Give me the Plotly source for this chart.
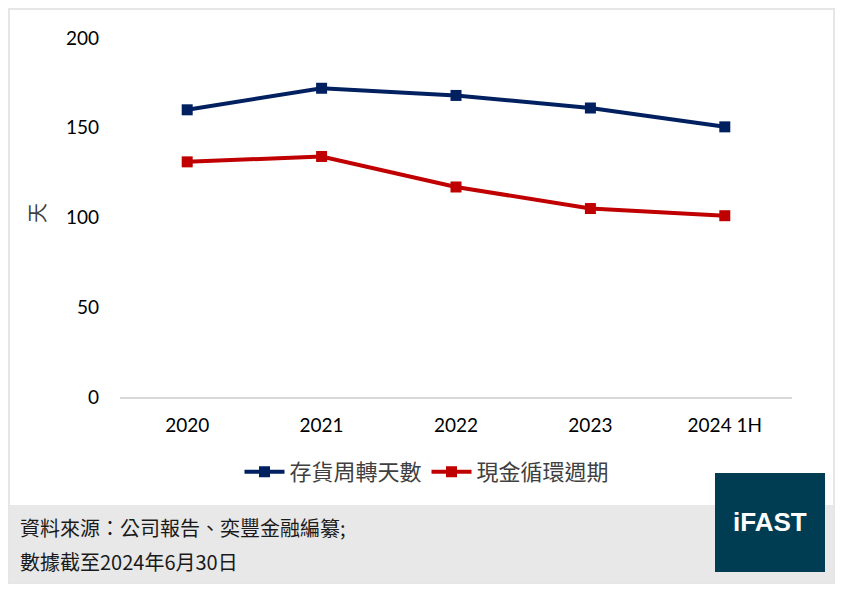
import plotly.graph_objects as go

# data
periods = ["2020", "2021", "2022", "2023", "2024 1H"]
inventory_days = [160, 172, 168, 161, 150.5]   # 存貨周轉天數
cash_cycle = [131, 134, 117, 105, 101]          # 現金循環週期

blue = "#002060"
red = "#C00000"
cjk = "Noto Sans CJK TC"
num_font = "Lato"

# page body has an 8px margin, so the figure starts at (8, 8)
OFF = 8
W, H = 844 - OFF, 589 - OFF
L, R, T, B = 112, 52, 30, 192
pw, ph = W - L - R, H - T - B


def px(x):
    # reference pixel x -> paper x
    return (x - OFF - L) / pw


def py(y):
    # reference pixel y -> paper y
    return (H - B - (y - OFF)) / ph


fig = go.Figure()
fig.add_trace(go.Scatter(
    x=periods, y=inventory_days, name="存貨周轉天數",
    mode="lines+markers", line=dict(color=blue, width=4),
    marker=dict(symbol="square", size=11, color=blue),
))
fig.add_trace(go.Scatter(
    x=periods, y=cash_cycle, name="現金循環週期",
    mode="lines+markers", line=dict(color=red, width=4),
    marker=dict(symbol="square", size=11, color=red),
))

fig.update_layout(
    width=W, height=H,
    margin=dict(l=L, r=R, t=T, b=B),
    paper_bgcolor="white", plot_bgcolor="white",
    font=dict(family=num_font, color="#000000"),
    showlegend=True,
    legend=dict(
        orientation="h", x=px(427), xanchor="center", y=py(472), yanchor="middle",
        font=dict(family=cjk, size=22, color="#404040"),
        itemwidth=40, bgcolor="rgba(0,0,0,0)",
    ),
)
fig.update_xaxes(
    type="category", range=[-0.5, 4.5], showgrid=False,
    showline=True, linecolor="#D9D9D9", linewidth=2,
    ticks="", ticklabelstandoff=10,
    tickfont=dict(family=num_font, size=19, color="#000000"),
)
fig.update_yaxes(
    range=[0, 200], dtick=50, showgrid=False, zeroline=False, showline=False,
    ticks="", ticklabelstandoff=20,
    tickfont=dict(family=num_font, size=19, color="#000000"),
)

# outer frame, footer band and logo box
fig.add_shape(type="rect", xref="paper", yref="paper",
              x0=px(8), x1=px(834), y0=py(505), y1=py(583),
              fillcolor="#E8E8E8", line=dict(width=0), layer="below")
fig.add_shape(type="rect", xref="paper", yref="paper",
              x0=px(9), x1=px(834), y0=py(583), y1=py(9),
              fillcolor="rgba(0,0,0,0)", line=dict(color="#E6E6E6", width=2))
fig.add_shape(type="rect", xref="paper", yref="paper",
              x0=px(715), x1=px(825), y0=py(572), y1=py(473),
              fillcolor="#003D52", line=dict(width=0))

# y axis title (rotated)
fig.add_annotation(text="天", xref="paper", yref="paper", x=px(36), y=py(213),
                   xanchor="center", yanchor="middle",
                   textangle=-90, showarrow=False,
                   font=dict(family=cjk, size=20, color="#404040"))

# logo text
fig.add_annotation(text="<b>iFAST</b>", xref="paper", yref="paper",
                   x=px(770), y=py(522), xanchor="center", yanchor="middle",
                   showarrow=False,
                   font=dict(family="Liberation Sans", size=26, color="white"))

# footer notes
fig.add_annotation(text="資料來源：公司報告、奕豐金融編纂;", xref="paper", yref="paper",
                   x=px(18), y=py(527), xanchor="left", yanchor="middle", showarrow=False,
                   font=dict(family=cjk, size=20, color="#1A1A1A"))
fig.add_annotation(text="數據截至2024年6月30日", xref="paper", yref="paper",
                   x=px(18), y=py(561), xanchor="left", yanchor="middle", showarrow=False,
                   font=dict(family=cjk, size=20, color="#1A1A1A"))

fig.write_html("out.html")
